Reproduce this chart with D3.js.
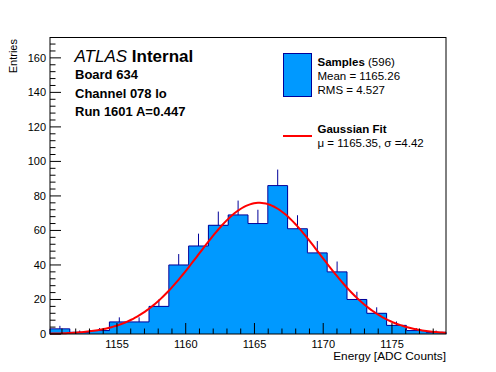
<!DOCTYPE html>
<html>
<head>
<meta charset="utf-8">
<script src="https://cdn.jsdelivr.net/npm/d3@7"></script>
<style>
  body { margin: 0; background: #fff; }
  svg { display: block; font-family: "Liberation Sans", Arial, sans-serif; }
</style>
</head>
<body>
<div id="chart"></div>
<script>
// histogram: 20 bins between xMin and xMax
const binRange = [1150.13, 1178.93];
const counts = [3, 1, 2, 7, 7, 16, 40, 51, 63, 69, 64, 86, 61, 47, 36, 20, 12, 5, 2, 1];
const xTicks = [1155, 1160, 1165, 1170, 1175];
const yTicks = [0, 20, 40, 60, 80, 100, 120, 140, 160];
const fit = { amp: 76, mu: 1165.35, sigma: 4.42 };
const infoLines = ['Board 634', 'Channel 078 lo', 'Run 1601 A=0.447'];

const FILL = '#0099ff', EDGE = '#000099', RED = '#ff0000';
const width = 496, height = 372;
const m = { left: 50, right: 446, top: 37.5, bottom: 334 };

const svg = d3.select('#chart').append('svg')
  .attr('width', width).attr('height', height);

const x = d3.scaleLinear().domain(binRange).range([m.left, m.right]);
const y = d3.scaleLinear().domain([0, 171.8]).range([m.bottom, m.top]);

const bw = (binRange[1] - binRange[0]) / counts.length;
const bins = counts.map((c, i) => ({ x0: binRange[0] + i * bw, x1: binRange[0] + (i + 1) * bw, c }));

// error bars (only the upper half shows above the fill)
svg.append('g').selectAll('line').data(bins.filter(d => d.c > 0)).join('line')
  .attr('x1', d => x((d.x0 + d.x1) / 2)).attr('x2', d => x((d.x0 + d.x1) / 2))
  .attr('y1', d => y(d.c)).attr('y2', d => y(d.c + Math.sqrt(d.c)))
  .attr('stroke', EDGE).attr('stroke-width', 1);

// step outline points
const step = [];
bins.forEach(d => { step.push([d.x0, d.c]); step.push([d.x1, d.c]); });

// filled histogram as one area (no seams between bins)
svg.append('path')
  .attr('d', d3.area().x(d => x(d[0])).y0(y(0)).y1(d => y(d[1]))(step))
  .attr('fill', FILL).attr('shape-rendering', 'crispEdges');

svg.append('path')
  .attr('d', d3.line().x(d => x(d[0])).y(d => y(d[1]))([[binRange[0], 0], ...step, [binRange[1], 0]]))
  .attr('fill', 'none').attr('stroke', EDGE).attr('stroke-width', 1);

// gaussian fit curve
const gx = d3.range(0, 201).map(i => binRange[0] + i * (binRange[1] - binRange[0]) / 200);
svg.append('path')
  .attr('d', d3.line().x(d => x(d)).y(d => y(fit.amp * Math.exp(-0.5 * ((d - fit.mu) / fit.sigma) ** 2)))(gx))
  .attr('fill', 'none').attr('stroke', RED).attr('stroke-width', 2);

// frame
svg.append('rect')
  .attr('x', m.left).attr('y', m.top)
  .attr('width', m.right - m.left).attr('height', m.bottom - m.top)
  .attr('fill', 'none').attr('stroke', '#000').attr('stroke-width', 1);

// y ticks inside
const yAxis = svg.append('g');
d3.range(0, 172, 4).forEach(v => {
  const major = v % 20 === 0;
  yAxis.append('line').attr('x1', m.left).attr('x2', m.left + (major ? 11 : 5.5))
    .attr('y1', y(v)).attr('y2', y(v)).attr('stroke', '#000');
});
yAxis.selectAll('text').data(yTicks).join('text')
  .attr('x', m.left - 4).attr('y', d => y(d)).attr('dy', '0.36em')
  .attr('text-anchor', 'end').attr('font-size', 11).text(d => d);

// x ticks inside
const xAxis = svg.append('g');
d3.range(1151, 1179).forEach(v => {
  const major = v % 5 === 0;
  xAxis.append('line').attr('x1', x(v)).attr('x2', x(v))
    .attr('y1', m.bottom).attr('y2', m.bottom - (major ? 11 : 5.5)).attr('stroke', '#000');
});
xAxis.selectAll('text').data(xTicks).join('text')
  .attr('x', d => x(d)).attr('y', 347.5)
  .attr('text-anchor', 'middle').attr('font-size', 11).text(d => d);

svg.append('text').attr('x', m.right).attr('y', 360).attr('text-anchor', 'end')
  .attr('font-size', 11.8).text('Energy [ADC Counts]');
svg.append('text').attr('transform', 'translate(17,39) rotate(-90)').attr('text-anchor', 'end')
  .attr('font-size', 11).text('Entries');

// ATLAS label
const atl = svg.append('text').attr('x', 74.5).attr('y', 62).attr('font-size', 17);
atl.append('tspan').attr('font-style', 'italic').text('ATLAS');
atl.append('tspan').attr('font-weight', 'bold').text(' Internal');
svg.append('g').selectAll('text').data(infoLines).join('text')
  .attr('x', 75).attr('y', (d, i) => 79 + i * 18.5)
  .attr('font-size', 13).attr('font-weight', 'bold').text(d => d);

// legend
svg.append('rect').attr('x', 283.5).attr('y', 53.5).attr('width', 28).attr('height', 43)
  .attr('fill', FILL).attr('stroke', EDGE);
const l1 = svg.append('text').attr('x', 317.5).attr('y', 66).attr('font-size', 11.5);
l1.append('tspan').attr('font-weight', 'bold').text('Samples');
l1.append('tspan').text(' (596)');
svg.append('text').attr('x', 317.5).attr('y', 80).attr('font-size', 11.5).text('Mean = 1165.26');
svg.append('text').attr('x', 317.5).attr('y', 93.5).attr('font-size', 11.5).text('RMS = 4.527');

svg.append('line').attr('x1', 283).attr('x2', 312).attr('y1', 136).attr('y2', 136)
  .attr('stroke', RED).attr('stroke-width', 2);
svg.append('text').attr('x', 317.5).attr('y', 133).attr('font-size', 11.5).attr('font-weight', 'bold').text('Gaussian Fit');
svg.append('text').attr('x', 317.5).attr('y', 147).attr('font-size', 11.5).text('\u03bc = 1165.35, \u03c3 =4.42');
</script>
</body>
</html>
